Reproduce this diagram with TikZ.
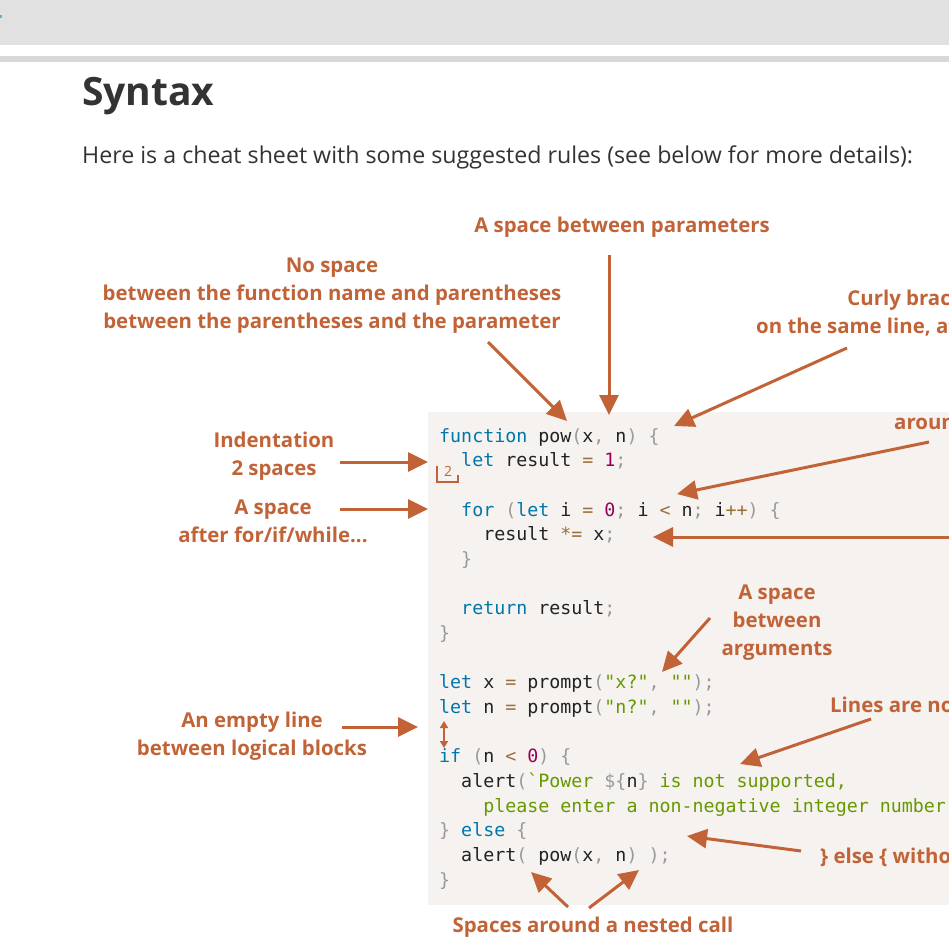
\documentclass[tikz,border=0pt]{standalone}
\usepackage{fontspec}
\setmainfont{Open Sans}
\newfontfamily\codefont{DejaVu Sans Mono}
\usetikzlibrary{arrows.meta}

\definecolor{note}{RGB}{193,99,55}
\definecolor{codebg}{RGB}{245,242,240}
\definecolor{bodytext}{RGB}{51,51,51}
\definecolor{kwblue}{RGB}{0,119,170}
\definecolor{pungray}{RGB}{153,153,153}
\definecolor{opbrown}{RGB}{154,110,58}
\definecolor{nummag}{RGB}{153,0,85}
\definecolor{strgreen}{RGB}{102,153,0}
\definecolor{plaincode}{RGB}{34,34,34}
\definecolor{barbg}{RGB}{225,225,225}
\definecolor{barline}{RGB}{216,216,216}

\newcommand\cKw[1]{\textcolor{kwblue}{#1}}
\newcommand\cPu[1]{\textcolor{pungray}{#1}}
\newcommand\cOp[1]{\textcolor{opbrown}{#1}}
\newcommand\cNum[1]{\textcolor{nummag}{#1}}
\newcommand\cStr[1]{\textcolor{strgreen}{#1}}

\begin{document}
\begin{tikzpicture}[
  x=1pt, y=-1pt,
  note/.style={font=\bfseries\fontsize{20.4}{28}\selectfont, text=note, align=center, inner sep=0pt},
  code/.style={font=\codefont\fontsize{18.3}{24.67}\selectfont, text=plaincode, anchor=base west, inner sep=0pt},
  pointer/.style={draw=note, line width=3pt, -{Triangle[length=20pt,width=19pt]}},
  tinypointer/.style={draw=note, line width=2pt, {Triangle[length=7pt,width=8pt]}-{Triangle[length=7pt,width=8pt]}}
]
\useasboundingbox (0,0) rectangle (949,949);
\clip (0,0) rectangle (949,949);

% Page header.
\fill[barbg] (0,0) rectangle (949,45);
\fill[barline] (0,56) rectangle (949,62);
\fill[kwblue!60] (0,15) rectangle (1.5,18);
\node[anchor=base west, inner sep=0pt, text=bodytext, font=\bfseries\fontsize{39}{44}\selectfont] (title) at (82,106) {Syntax};
\node[anchor=base west, inner sep=0pt, text=bodytext, font=\fontsize{23.2}{27}\selectfont] (intro) at (82,164)
  {Here is a cheat sheet with some suggested rules (see below for more details):};

% Code block.
\fill[codebg] (428,412) rectangle (949,905);
\def\xc{439}
\def\cw{11.02}
\node[code] (l1)  at (\xc,442.0) {\cKw{function} pow\cPu{(}x\cPu{,} n\cPu{)} \cPu{\{}};
\node[code] (l2)  at (\xc+2*\cw,466.7) {\cKw{let} result \cOp{=} \cNum{1}\cPu{;}};
\node[code] (l4)  at (\xc+2*\cw,516.0) {\cKw{for} \cPu{(}\cKw{let} i \cOp{=} \cNum{0}\cPu{;} i \cOp{<} n\cPu{;} i\cOp{++}\cPu{)} \cPu{\{}};
\node[code] (l5)  at (\xc+4*\cw,540.7) {result \cOp{*=} x\cPu{;}};
\node[code] (l6)  at (\xc+2*\cw,565.3) {\cPu{\}}};
\node[code] (l8)  at (\xc+2*\cw,614.7) {\cKw{return} result\cPu{;}};
\node[code] (l9)  at (\xc,639.3) {\cPu{\}}};
\node[code] (l11) at (\xc,688.7) {\cKw{let} x \cOp{=} prompt\cPu{(}\cStr{"x?"}\cPu{,} \cStr{""}\cPu{);}};
\node[code] (l12) at (\xc,713.3) {\cKw{let} n \cOp{=} prompt\cPu{(}\cStr{"n?"}\cPu{,} \cStr{""}\cPu{);}};
\node[code] (l14) at (\xc,762.7) {\cKw{if} \cPu{(}n \cOp{<} \cNum{0}\cPu{)} \cPu{\{}};
\node[code] (l15) at (\xc+2*\cw,787.3) {alert\cPu{(}\cStr{\textasciigrave{}Power }\cPu{\$\{}n\cPu{\}}\cStr{\ is not supported,}};
\node[code] (l16) at (\xc+4*\cw,812.0) {\cStr{please enter a non-negative integer number!\textasciigrave{}}\cPu{);}};
\node[code] (l17) at (\xc,836.7) {\cPu{\}} \cKw{else} \cPu{\{}};
\node[code] (l18) at (\xc+2*\cw,861.3) {alert\cPu{(} pow\cPu{(}x\cPu{,} n\cPu{)} \cPu{);}};
\node[code] (l19) at (\xc,886.0) {\cPu{\}}};

% Indent bracket and empty-line marker.
\draw[draw=note, line width=2pt] (437,466) -- (437,482) -- (458,482) -- (458,475);
\node[inner sep=0pt, text=note, font=\fontsize{14}{14}\selectfont] (two) at (448,471) {2};
\coordinate (gaptop) at (444,721);
\coordinate (gapbot) at (444,748);
\draw[tinypointer] (gaptop) -- (gapbot);

% Notes (base = baseline of the last line).
\node[note, anchor=base] (params) at (622,233) {A space between parameters};
\node[note, anchor=base] (nospace) at (332,328)
  {No space\\between the function name and parentheses\\between the parentheses and the parameter};
\node[note, anchor=base west] (curly) at (756,333) {Curly brace \{\\on the same line, after a space};
\node[note, anchor=base west] (opsp) at (894,429) {Spaces\\around operators};
\node[note, anchor=base] (argsp) at (777,655) {A space\\between\\arguments};
\node[note, anchor=base west] (long) at (830,712) {Lines are not very long};
\node[note, anchor=base west] (elsenote) at (820,863) {\} else \{ without a line break};
\node[note, anchor=base] (nested) at (593,932) {Spaces around a nested call};
\node[note, anchor=base] (indent) at (274,475) {Indentation\\2 spaces};
\node[note, anchor=base] (forsp) at (273,542) {A space\\after for/if/while...};
\node[note, anchor=base] (emptyl) at (252,755) {An empty line\\between logical blocks};

% Pointer ends.
\coordinate (nsFrom) at (488,342);   \coordinate (nsTo) at (567,421);
\coordinate (parFrom) at (609,255);  \coordinate (parTo) at (609,415);
\coordinate (brFrom) at (847,348);   \coordinate (brTo) at (674,426);
\coordinate (opFrom) at (929,442);   \coordinate (opTo) at (677,494);
\coordinate (scFrom) at (960,537);   \coordinate (scTo) at (653,537);
\coordinate (argFrom) at (710,618);  \coordinate (argTo) at (662,672);
\coordinate (lnFrom) at (871,719);   \coordinate (lnTo) at (740,764);
\coordinate (elFrom) at (801,851);   \coordinate (elTo) at (687,836);
\coordinate (nlFrom) at (568,907);   \coordinate (nlTo) at (531,872);
\coordinate (nrFrom) at (589,908);   \coordinate (nrTo) at (639,870);
\coordinate (inFrom) at (340,462);   \coordinate (inTo) at (428,462);
\coordinate (fsFrom) at (340,509);   \coordinate (fsTo) at (428,509);
\coordinate (elnFrom) at (342,727);  \coordinate (elnTo) at (418,727);

% Pointers.
\draw[pointer] (nsFrom) -- (nsTo);
\draw[pointer] (parFrom) -- (parTo);
\draw[pointer] (brFrom) -- (brTo);
\draw[pointer] (opFrom) -- (opTo);
\draw[pointer] (scFrom) -- (scTo);
\draw[pointer] (argFrom) -- (argTo);
\draw[pointer] (lnFrom) -- (lnTo);
\draw[pointer] (elFrom) -- (elTo);
\draw[pointer] (nlFrom) -- (nlTo);
\draw[pointer] (nrFrom) -- (nrTo);
\draw[pointer] (inFrom) -- (inTo);
\draw[pointer] (fsFrom) -- (fsTo);
\draw[pointer] (elnFrom) -- (elnTo);

\end{tikzpicture}
\end{document}
